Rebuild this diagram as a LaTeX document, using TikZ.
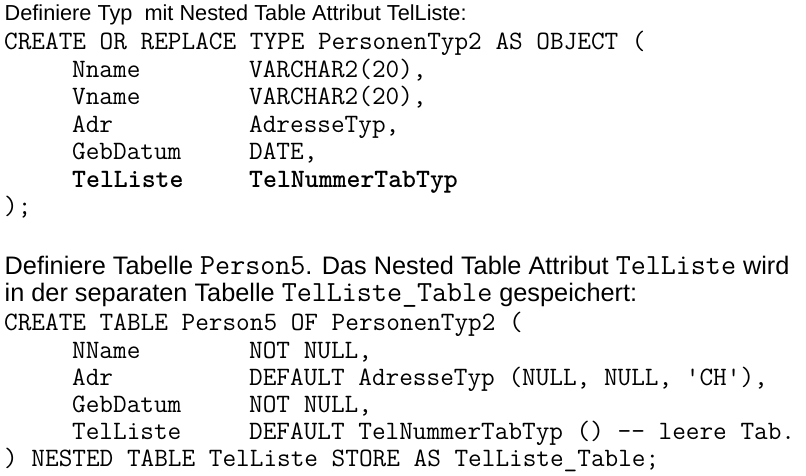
\documentclass[tikz,border=0pt]{standalone}
\usepackage{fontspec}
\setmainfont{Liberation Sans}
\newcommand{\codeword}[1]{{\ttfamily\fontsize{29.2}{28}\selectfont #1}}
\tikzset{
  txt/.style={anchor=base west,inner sep=0pt,font=\fontsize{21.7}{25}\selectfont},
  txtbig/.style={anchor=base west,inner sep=0pt,font=\fontsize{25.3}{28}\selectfont},
  code/.style={anchor=base west,inner sep=0pt,font=\ttfamily\fontsize{26.5}{27}\selectfont},
  codebold/.style={code,font=\ttfamily\bfseries\fontsize{26.5}{27}\selectfont}
}
\begin{document}
\begin{tikzpicture}[x=1pt, y=1pt]
			\useasboundingbox (0,0) rectangle (806,476);
			% Typ-Definition
			\node[txt] (titel1) at (4.5,455) {Definiere Typ\ \ mit Nested Table Attribut TelListe:};
			\node[code] (create1) at (4,426) {CREATE OR REPLACE TYPE PersonenTyp2 AS OBJECT (};
			\node[code] (nname1) at (72,398.5) {Nname};
			\node[code] (nnameT) at (249,398.5) {VARCHAR2(20),};
			\node[code] (vname1) at (72,371) {Vname};
			\node[code] (vnameT) at (249,371) {VARCHAR2(20),};
			\node[code] (adr1) at (72,343.5) {Adr};
			\node[code] (adrT) at (249,343.5) {AdresseTyp,};
			\node[code] (geb1) at (72,316) {GebDatum};
			\node[code] (gebT) at (249,316) {DATE,};
			\node[codebold] (tel1) at (72,288.5) {TelListe};
			\node[codebold] (telT) at (249,288.5) {TelNummerTabTyp};
			\node[code] (ende1) at (4,261) {);};
			% Tabelle
			\node[txtbig] (titel2) at (4.5,201) {Definiere Tabelle \codeword{Person5}. Das Nested Table Attribut \codeword{TelListe} wird};
			\node[txtbig] (titel3) at (4.5,174) {in der separaten Tabelle \codeword{TelListe\_Table} gespeichert:};
			\node[code] (create2) at (4,145) {CREATE TABLE Person5 OF PersonenTyp2 (};
			\node[code] (nname2) at (72,117.8) {NName};
			\node[code] (nnameC) at (249,117.8) {NOT NULL,};
			\node[code] (adr2) at (72,90.6) {Adr};
			\node[code] (adrC) at (249,90.6) {DEFAULT AdresseTyp (NULL, NULL, 'CH'),};
			\node[code] (geb2) at (72,63.4) {GebDatum};
			\node[code] (gebC) at (249,63.4) {NOT NULL,};
			\node[code] (tel2) at (72,36.2) {TelListe};
			\node[code] (telC) at (249,36.2) {DEFAULT TelNummerTabTyp () -- leere Tab.};
			\node[code] (ende2) at (4,9) {) NESTED TABLE TelListe STORE AS TelListe\_Table;};
		\end{tikzpicture}
\end{document}
